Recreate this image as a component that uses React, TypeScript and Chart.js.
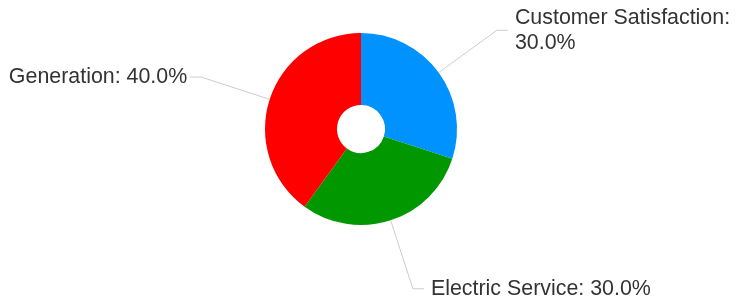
import React, { useEffect, useRef } from "react";
import { Chart, registerables } from "chart.js";

Chart.register(...registerables);

const categories = ["Customer Satisfaction", "Electric Service", "Generation"];
const values = [30, 30, 40];
const colors = ["#0092ff", "#009700", "#ff0000"];

const leaderPlugin = {
  id: "leaderLabels",
  afterDatasetsDraw(chart: any) {
    const ctx = chart.ctx;
    const meta = chart.getDatasetMeta(0);
    const total = values.reduce((a, b) => a + b, 0);
    ctx.save();
    ctx.font = "21.4px 'Liberation Sans', Arial, sans-serif";
    ctx.textBaseline = "middle";
    meta.data.forEach((arc: any, i: number) => {
      const { x, y, startAngle, endAngle, outerRadius } = arc.getProps(
        ["x", "y", "startAngle", "endAngle", "outerRadius"],
        true
      );
      const mid = (startAngle + endAngle) / 2;
      const dx = Math.cos(mid);
      const dy = Math.sin(mid);
      const sx = x + dx * outerRadius;
      const sy = y + dy * outerRadius;
      const ex = x + dx * (outerRadius + 72);
      const ey = y + dy * (outerRadius + 72);
      const side = dx >= 0 ? 1 : -1;
      const hx = ex + side * 11;
      ctx.strokeStyle = "#cccccc";
      ctx.lineWidth = 1;
      ctx.beginPath();
      ctx.moveTo(sx, sy);
      ctx.lineTo(ex, ey);
      ctx.lineTo(hx, ey);
      ctx.stroke();
      const pct = ((values[i] / total) * 100).toFixed(1) + "%";
      const full = categories[i] + ": " + pct;
      const tx = hx + (side > 0 ? 7 : -3);
      let lines = [full];
      const avail = side > 0 ? chart.width - tx - 4 : tx - 4;
      if (ctx.measureText(full).width > avail) {
        lines = [categories[i] + ":", pct];
      }
      ctx.fillStyle = "#333333";
      ctx.textAlign = side > 0 ? "left" : "right";
      const lh = 25;
      const y0 = ey - ((lines.length - 1) * lh) / 2;
      lines.forEach((ln, k) => ctx.fillText(ln, tx, y0 + k * lh));
    });
    ctx.restore();
  },
};

export default function App() {
  const ref = useRef<HTMLCanvasElement>(null);
  useEffect(() => {
    document.body.style.margin = "0";
    const chart = new Chart(ref.current!, {
      type: "doughnut",
      data: {
        labels: categories,
        datasets: [
          {
            data: values,
            backgroundColor: colors,
            borderWidth: 0,
            hoverOffset: 0,
            offset: 0,
          },
        ],
      },
      options: {
        responsive: false,
        animation: false,
        cutout: "25%",
        layout: { padding: { top: 33, bottom: 82, left: 0, right: 17 } },
        plugins: { legend: { display: false }, tooltip: { enabled: false } },
      },
      plugins: [leaderPlugin],
    });
    return () => chart.destroy();
  }, []);
  return (
    <div style={{ width: 739, height: 307 }}>
      <canvas ref={ref} width={739} height={307} />
    </div>
  );
}
